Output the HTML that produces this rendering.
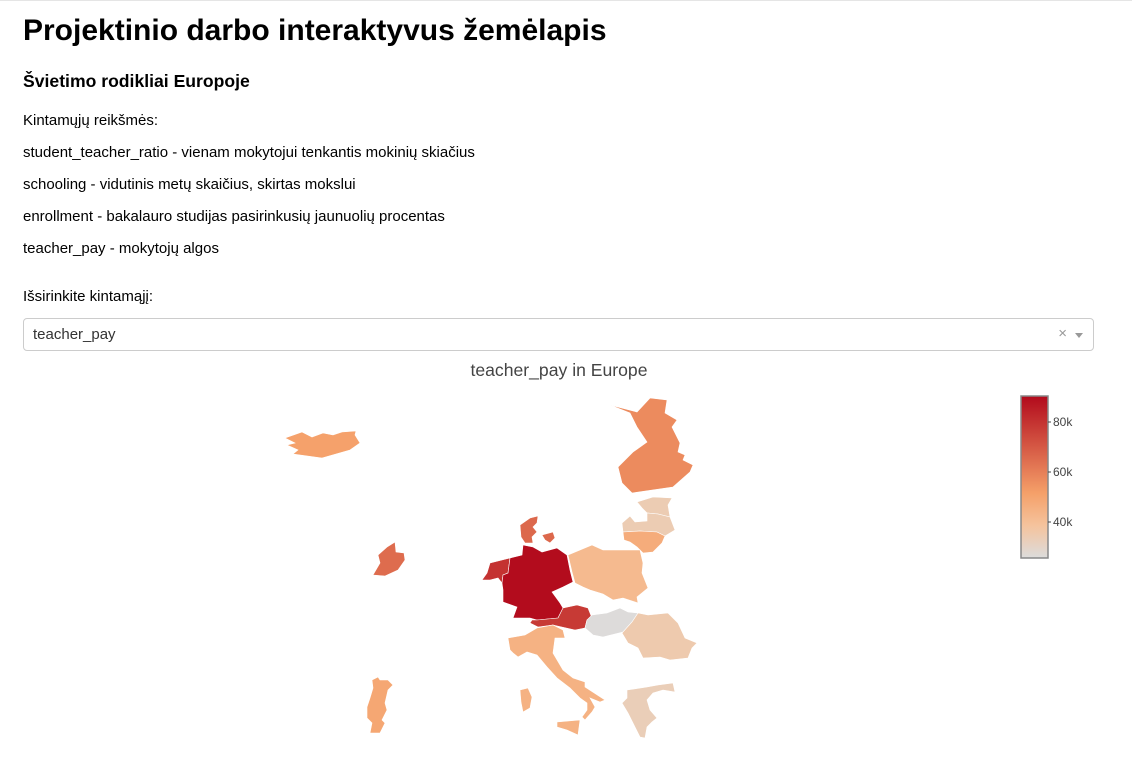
<!DOCTYPE html>
<html><head><meta charset="utf-8">
<style>
body{margin:0;background:#fff;font-family:"Liberation Sans",Arial,sans-serif;color:#000;width:1132px;height:784px;overflow:hidden;border-top:1px solid #e5e5e5;box-sizing:border-box}
h1{position:absolute;left:23px;top:14px;margin:0;font-size:30px;font-weight:bold}
h3{position:absolute;left:23px;top:71px;margin:0;font-size:17.6px;font-weight:bold}
.p{position:absolute;left:23px;margin:0;font-size:15px}
#dd{position:absolute;left:23px;top:318px;width:1071px;height:33px;border:1px solid #ccc;border-radius:4px;box-sizing:border-box}
#dd span.v{position:absolute;left:9px;top:7px;font-size:15px;color:#333}
#dd .x{position:absolute;right:26px;top:6px;color:#999;font-size:15px}
#dd .a{position:absolute;right:10px;top:14px;width:0;height:0;border-left:4px solid transparent;border-right:4px solid transparent;border-top:5px solid #999}
svg{position:absolute;left:0;top:0}
</style></head><body>
<h1>Projektinio darbo interaktyvus žemėlapis</h1>
<h3>Švietimo rodikliai Europoje</h3>
<p class="p" style="top:112px">Kintamųjų reikšmės:</p>
<p class="p" style="top:144px">student_teacher_ratio - vienam mokytojui tenkantis mokinių skiačius</p>
<p class="p" style="top:176px">schooling - vidutinis metų skaičius, skirtas mokslui</p>
<p class="p" style="top:208px">enrollment - bakalauro studijas pasirinkusių jaunuolių procentas</p>
<p class="p" style="top:240px">teacher_pay - mokytojų algos</p>
<p class="p" style="top:288px">Išsirinkite kintamąjį:</p>
<div id="dd"><span class="v">teacher_pay</span><span class="x">×</span><span class="a"></span></div>
<svg id="chart" width="1132" height="784">
<defs><linearGradient id="cg" x1="0" y1="1" x2="0" y2="0">
<stop offset="0" stop-color="rgb(220,220,220)"/><stop offset="0.2" stop-color="rgb(245,195,157)"/><stop offset="0.4" stop-color="rgb(245,160,105)"/><stop offset="1" stop-color="rgb(178,10,28)"/></linearGradient></defs>
<text x="559" y="376" text-anchor="middle" font-size="17.6" fill="#444" font-family="Liberation Sans, sans-serif">teacher_pay in Europe</text>
<g id="map"></g>
<rect x="1021" y="396" width="27" height="162" fill="url(#cg)" stroke="#888" stroke-width="1.5"/>
<g id="cb"></g>
</svg>
<script>
const countries=["Iceland","Finland","Estonia","Latvia","Lithuania","Denmark","Denmark-Zealand","Ireland","Belgium","Germany","Austria","Poland","Hungary","Romania","Italy","Sicily","Sardinia","Portugal","Greece"];
const values=[51000,57000,34000,34000,47000,66000,66000,65000,80000,90000,78000,42000,26000,35000,45000,45000,45000,49000,33000];
const cbTicks=[40000,60000,80000];
const cbLabels=["40k","60k","80k"];
const zmin=25600,zmax=90400;
const geom={
"Iceland":[[285,438],[302,432],[312,437],[323,433],[333,435],[342,432],[356,431],[355,435],[360,443],[350,450],[322,458],[293,454],[298,450],[287,445],[295,443]],
"Finland":[[610,405],[637,412],[650,398],[667,400],[665,413],[677,420],[672,427],[680,443],[678,452],[685,455],[683,460],[693,465],[690,472],[673,487],[632,493],[622,483],[618,467],[633,452],[647,442],[637,427],[630,413]],
"Estonia":[[637,502],[653,497],[672,498],[668,505],[670,517],[658,514],[647,513],[642,508]],
"Latvia":[[622,523],[630,516],[635,522],[647,521],[647,513],[658,514],[670,517],[675,530],[665,536],[657,532],[640,531],[623,532]],
"Lithuania":[[623,532],[640,531],[657,532],[665,536],[662,543],[653,552],[643,553],[637,547],[630,542],[624,540]],
"Denmark":[[520,525],[530,518],[538,516],[537,523],[533,527],[537,532],[532,537],[533,543],[525,543],[521,537]],
"Denmark-Zealand":[[542,535],[553,532],[555,538],[550,543],[545,540]],
"Ireland":[[378,555],[387,547],[395,542],[396,552],[404,553],[405,560],[398,570],[385,576],[373,575],[380,563]],
"Belgium":[[490,563],[510,558],[508,573],[503,575],[502,583],[498,578],[490,580],[482,580],[487,573]],
"Germany":[[523,545],[533,547],[542,552],[557,548],[567,555],[570,570],[573,582],[563,587],[552,592],[560,603],[563,608],[558,618],[537,620],[530,618],[513,618],[517,607],[503,602],[503,590],[502,583],[503,575],[508,573],[510,558],[522,555]],
"Austria":[[563,608],[577,605],[588,608],[592,618],[587,620],[585,628],[575,630],[553,625],[538,627],[530,623],[532,620],[537,620],[558,618]],
"Poland":[[568,555],[592,545],[603,550],[640,550],[643,563],[642,573],[648,588],[637,597],[638,603],[623,598],[613,600],[603,594],[590,590],[583,587],[575,583],[572,572]],
"Hungary":[[587,620],[592,615],[607,613],[620,608],[628,612],[638,613],[632,622],[623,632],[603,637],[593,635],[585,628]],
"Romania":[[638,613],[648,615],[668,613],[678,623],[685,638],[697,643],[692,648],[688,658],[670,660],[660,657],[643,658],[638,648],[628,643],[622,633],[632,622]],
"Italy":[[508,638],[525,635],[537,628],[553,625],[563,630],[565,638],[555,638],[553,653],[563,670],[573,678],[585,682],[585,687],[605,700],[600,702],[590,698],[595,707],[592,712],[585,720],[582,717],[587,710],[587,703],[580,698],[570,688],[557,678],[547,667],[537,655],[527,652],[518,657],[513,653],[510,650]],
"Sicily":[[557,722],[580,720],[578,735],[567,730],[557,727]],
"Sardinia":[[520,690],[528,688],[532,697],[530,708],[523,712],[521,702]],
"Portugal":[[372,680],[378,677],[380,680],[388,680],[393,685],[388,690],[385,703],[387,710],[382,720],[385,723],[380,733],[370,733],[372,723],[367,718],[367,707],[370,698],[373,688]],
"Greece":[[627,690],[647,687],[658,685],[673,683],[675,692],[663,690],[653,693],[647,700],[650,710],[657,718],[652,722],[647,727],[645,738],[640,737],[633,723],[628,713],[622,703],[627,698]]
};
const scale=[[0,[220,220,220]],[0.2,[245,195,157]],[0.4,[245,160,105]],[1,[178,10,28]]];
function color(v){let t=Math.max(0,Math.min(1,(v-zmin)/(zmax-zmin)));
for(let i=1;i<scale.length;i++){if(t<=scale[i][0]){const a=scale[i-1],b=scale[i];const f=(t-a[0])/(b[0]-a[0]);
return 'rgb('+a[1].map((c,k)=>Math.round(c+(b[1][k]-c)*f)).join(',')+')';}}return 'rgb(178,10,28)';}
const NS="http://www.w3.org/2000/svg";
const map=document.getElementById('map');
countries.forEach((c,i)=>{const p=document.createElementNS(NS,'polygon');
p.setAttribute('points',geom[c].map(q=>q.join(',')).join(' '));
p.setAttribute('fill',color(values[i]));p.setAttribute('stroke','#fff');p.setAttribute('stroke-width','0.6');


map.appendChild(p);});
function cbY(v){return 558-(v-zmin)/(zmax-zmin)*162;}
const cb=document.getElementById('cb');
cbTicks.forEach((v,i)=>{const y=cbY(v);
const l=document.createElementNS(NS,'line');l.setAttribute('x1',1048);l.setAttribute('x2',1051);l.setAttribute('y1',y);l.setAttribute('y2',y);l.setAttribute('stroke','#444');


cb.appendChild(l);
const t=document.createElementNS(NS,'text');t.setAttribute('x',1053);t.setAttribute('y',y+4);t.setAttribute('font-size','12');t.setAttribute('fill','#444');t.setAttribute('font-family','Liberation Sans, sans-serif');t.textContent=cbLabels[i];


cb.appendChild(t);});
</script>
</body></html>
